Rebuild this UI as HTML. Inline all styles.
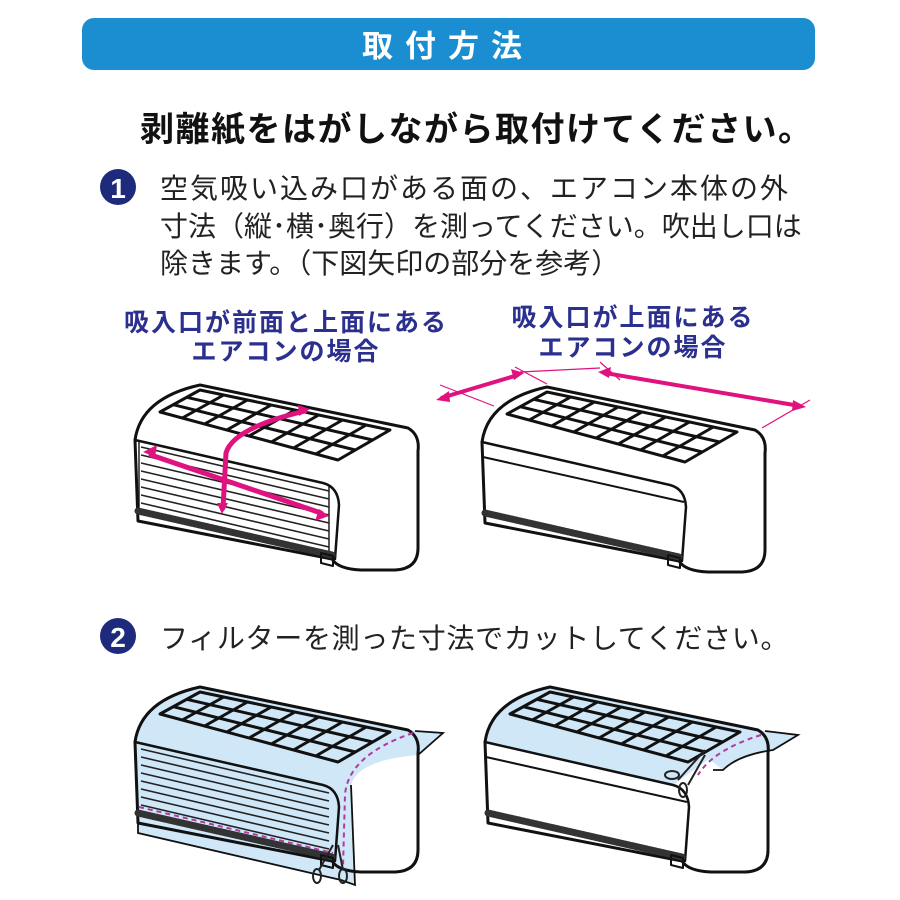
<!DOCTYPE html>
<html><head><meta charset="utf-8"><style>
html,body{margin:0;padding:0;background:#fff;}
body{width:900px;height:900px;overflow:hidden;position:relative;font-family:"Liberation Sans","Noto Sans CJK JP",sans-serif;}
</style></head><body>
<svg width="900" height="900" viewBox="0 0 900 900" xmlns="http://www.w3.org/2000/svg" style="position:absolute;left:0;top:0">
<defs>
<g id="grid" fill="none" stroke="#111" stroke-width="3" stroke-linejoin="round">
  <path d="M67,7 L257,47 L205,77 L27,29 Z"/>
  <path d="M90.75,12 L49.25,35 M114.5,17 L71.5,41 M138.25,22 L93.75,47 M162,27 L116,53 M185.75,32 L138.25,59 M209.5,37 L160.5,65 M233.25,42 L182.75,71"/>
  <path d="M53.7,14.3 L239.7,57 M40.3,21.7 L222.3,67"/>
</g>
<g id="body" fill="none" stroke="#111" stroke-width="3" stroke-linejoin="round" stroke-linecap="round">
  <path d="M2,57 Q8,15 67,2 L275,45 Q287,52 285,68 L285,165 Q285,186 262,187 L228,187 Q205,186 199,176 L5,138 Z"/>
  <path d="M2,57 L190,100 Q205,104 206,122 L202,176" stroke-width="2.5"/>
  <path d="M5,128 L199,172" stroke="#333" stroke-width="7" stroke-dasharray="1.5 1.5"/>
  <path d="M188,170 l12,3 l0,10 l-12,-3 Z" stroke-width="2"/>
</g>
</defs>

<rect x="82" y="18" width="733" height="52" rx="12" fill="#1b8ed1"/>
<text x="448" y="57" text-anchor="middle" fill="#fff" font-size="31" font-weight="bold" letter-spacing="12">取付方法</text>

<text x="140" y="141" fill="#111" font-size="34" font-weight="bold" letter-spacing="1.5">剥離紙をはがしながら取付けてください。</text>

<circle cx="118" cy="187" r="18" fill="#1e2a7c"/>
<text x="118" y="198" text-anchor="middle" fill="#fff" font-size="28" font-weight="bold">1</text>
<g fill="#222" font-size="28" letter-spacing="2">
<text x="160" y="198">空気吸い込み口がある面の、エアコン本体の外</text>
<text x="160" y="236" letter-spacing="0">寸法（縦･横･奥行）を測ってください。吹出し口は</text>
<text x="160" y="273" letter-spacing="0">除きます。（下図矢印の部分を参考）</text>
</g>

<g fill="#2b2f8d" font-size="25" font-weight="bold" text-anchor="middle" letter-spacing="2">
<text x="286" y="331">吸入口が前面と上面にある</text>
<text x="286" y="360">エアコンの場合</text>
<text x="633" y="326">吸入口が上面にある</text>
<text x="633" y="356">エアコンの場合</text>
</g>

<g transform="translate(133,383)">
  <path d="M2,57 Q8,15 67,2 L275,45 Q287,52 285,68 L285,165 Q285,186 262,187 L228,187 Q205,186 199,176 L5,138 Z" fill="#fff"/>
  <g stroke="#222" stroke-width="1.6">
    <path d="M8,64 L196,108 M8,72 L196,116 M8,80 L196,124 M8,88 L196,132 M8,96 L196,140 M8,104 L196,148 M8,112 L196,156 M8,120 L196,164"/>
  </g>
  <path d="M6,58 L6,128 M196,102 L196,170" stroke="#222" stroke-width="1.5"/>
  <use href="#body"/>
  <use href="#grid"/>
  <g stroke="#e0127f" stroke-width="5" fill="none" stroke-linecap="round">
    <path d="M18,72 L188,130"/>
    <path d="M172,28 Q100,45 93,70 L90,125"/>
  </g>
  <path d="M10,69 l14,-7 l-2,12 Z M196,133 l-14,5 l4,-12 Z M177,26 l-12,-4 l1,11 Z M89,131 l-5,-11 l11,0 Z" fill="#e0127f"/>
</g>

<g transform="translate(480,385)">
  <path d="M2,57 Q8,15 67,2 L275,45 Q287,52 285,68 L285,165 Q285,186 262,187 L228,187 Q205,186 199,176 L5,138 Z" fill="#fff"/>
  <path d="M3,72 L204,117" stroke="#111" stroke-width="2"/>
  <use href="#body"/>
  <use href="#grid"/>
</g>
<g stroke="#e0127f" fill="none">
  <path d="M441,398 L518,375 M605,373 L800,406" stroke-width="4"/>
  <path d="M440,385 L494,406 M515,367 L547,384 M600,362 L620,380 M810,400 L762,428 M520,372 L600,368" stroke-width="1.2"/>
</g>
<path d="M436,400 l13,-9 l1,11 Z M524,373 l-13,-4 l3,11 Z M598,372 l13,-5 l-2,11 Z M806,407 l-13,-7 l-1,11 Z" fill="#e0127f"/>

<circle cx="118" cy="636" r="18" fill="#1e2a7c"/>
<text x="118" y="647" text-anchor="middle" fill="#fff" font-size="28" font-weight="bold">2</text>
<text x="160" y="648" fill="#222" font-size="28" letter-spacing="0.7">フィルターを測った寸法でカットしてください。</text>

<g transform="translate(133,685)">
  <path d="M2,57 Q8,15 67,2 L275,45 Q287,52 285,68 L285,165 Q285,186 262,187 L228,187 Q205,186 199,176 L5,138 Z" fill="#fff"/>
  <path d="M2,57 Q8,15 67,2 L282,46 L310,48 L285,70 Q225,75 218,100 L222,200 L208,195 L5,148 Z" fill="#cfe7f7"/>
  <g stroke="#222" stroke-width="1.6">
    <path d="M8,64 L196,108 M8,72 L196,116 M8,80 L196,124 M8,88 L196,132 M8,96 L196,140 M8,104 L196,148 M8,112 L196,156 M8,120 L196,164"/>
  </g>
  <use href="#body"/>
  <path d="M282,46 L310,48 L285,70 M218,100 L222,200 L208,195 L5,148 L5,138" fill="none" stroke="#111" stroke-width="1.8"/>
  <use href="#grid"/>
  <path d="M6,122 L200,168 M280,48 Q215,70 212,110 L210,182" fill="none" stroke="#b03aa0" stroke-width="2" stroke-dasharray="5 4"/>
  <g fill="none" stroke="#222" stroke-width="2">
    <path d="M200,160 L186,185 M205,160 L210,185"/>
    <ellipse cx="184" cy="191" rx="4" ry="7"/>
    <ellipse cx="210" cy="191" rx="4" ry="7"/>
  </g>
</g>

<g transform="translate(483,685)">
  <path d="M2,57 Q8,15 67,2 L275,45 Q287,52 285,68 L285,165 Q285,186 262,187 L228,187 Q205,186 199,176 L5,138 Z" fill="#fff"/>
  <path d="M2,57 Q8,15 67,2 L282,46 L315,50 L290,65 Q255,70 240,85 L226,74 L190,100 Z" fill="#cfe7f7"/>
  <path d="M282,46 L315,50 L290,65 Q255,70 240,85 L230,85" fill="none" stroke="#111" stroke-width="1.8"/>
  <path d="M3,72 L204,117" stroke="#111" stroke-width="2"/>
  <use href="#body"/>
  <use href="#grid"/>
  <path d="M278,50 Q230,65 215,90" fill="none" stroke="#b03aa0" stroke-width="2" stroke-dasharray="5 4"/>
  <g fill="none" stroke="#222" stroke-width="2">
    <path d="M222,65 L195,95 M222,70 L205,100"/>
    <ellipse cx="189" cy="90" rx="7" ry="4"/>
    <ellipse cx="200" cy="105" rx="4" ry="7"/>
  </g>
</g>
</svg>
</body></html>
